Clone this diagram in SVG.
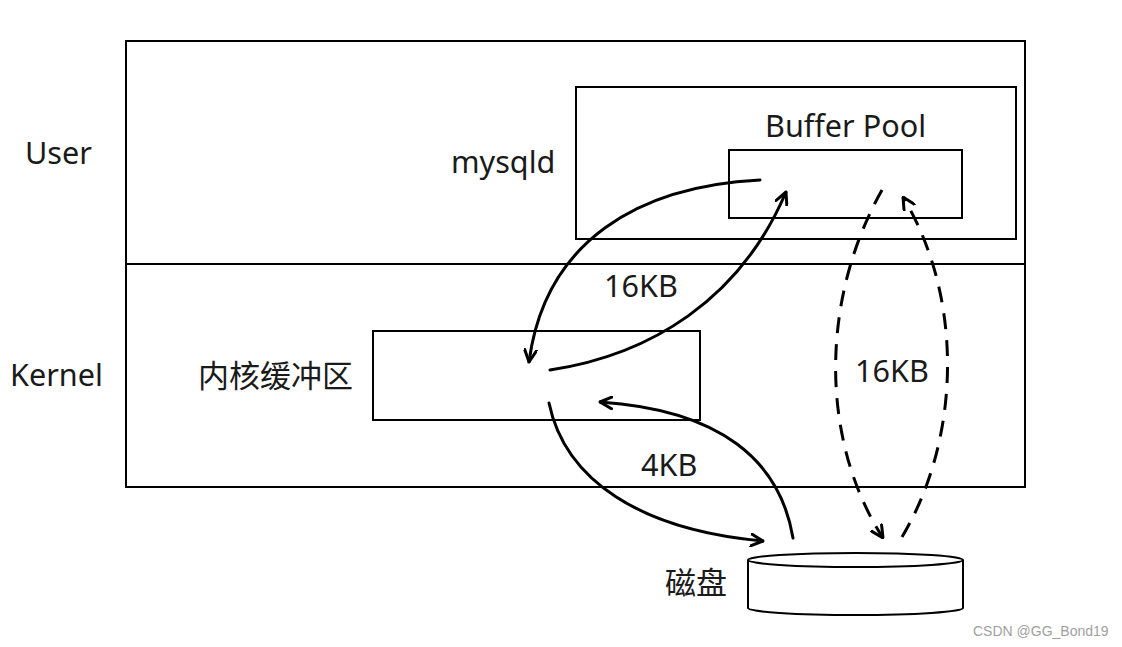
<svg xmlns="http://www.w3.org/2000/svg" width="1122" height="647" viewBox="0 0 1122 647">
<defs>
<style>
.box{fill:none;stroke:#000;stroke-width:2}
.t{font-family:"Noto Sans","Noto Sans CJK SC",sans-serif;font-size:30.6px;fill:#1a1a1a}
.cjk{font-size:31px}
.arc{fill:none;stroke:#000;stroke-width:3;stroke-linecap:round}
.dash{stroke-dasharray:16 11;stroke-linecap:butt}
.wm{font-family:"Liberation Sans",Arial,sans-serif;font-size:14px;fill:#a0a0a0}
</style>
<marker id="ah" viewBox="0 0 14 14" refX="13" refY="7" markerWidth="14" markerHeight="14" markerUnits="userSpaceOnUse" orient="auto">
<path d="M1,1 L13,7 L1,13" fill="none" stroke="#000" stroke-width="3" stroke-linecap="round" stroke-linejoin="round"/>
</marker>
</defs>
<rect width="1122" height="647" fill="#fff"/>
<g id="user-kernel">
<rect class="box" x="126" y="41" width="899" height="446"/>
<line class="box" x1="126" y1="264" x2="1025" y2="264"/>
<text class="t" x="25" y="164">User</text>
<text class="t" x="10" y="386">Kernel</text>
</g>
<g id="mysqld">
<rect class="box" x="576" y="87" width="440" height="152"/>
<text class="t" x="451" y="173">mysqld</text>
</g>
<g id="buffer-pool">
<rect class="box" x="729" y="150" width="233" height="68"/>
<text class="t" x="765" y="137">Buffer Pool</text>
</g>
<g id="kernel-buffer">
<rect class="box" x="373" y="331" width="327" height="89"/>
<text class="t cjk" x="198" y="387">内核缓冲区</text>
</g>
<g id="disk">
<path class="box" d="M748,560 L748,608 A107.5,7 0 0 0 963,608 L963,560"/>
<ellipse class="box" cx="855.5" cy="560" rx="107.5" ry="7" fill="#fff"/>
<text class="t cjk" x="665" y="594">磁盘</text>
</g>
<g id="connectors">
<path class="arc" d="M760,180 C640,186 545,240 529,362" marker-end="url(#ah)"/>
<path class="arc" d="M550,370 C650,355 740,300 786,192" marker-end="url(#ah)"/>
<path class="arc" d="M549,403 C565,480 640,530 763,541" marker-end="url(#ah)"/>
<path class="arc" d="M793,538 C780,460 720,410 600,402" marker-end="url(#ah)"/>
<path class="arc dash" d="M882,190 C820,300 820,440 883,538" marker-end="url(#ah)"/>
<path class="arc dash" d="M902,537 C960,440 965,300 903,197" marker-end="url(#ah)"/>
<text class="t" x="604" y="297">16KB</text>
<text class="t" x="855" y="382">16KB</text>
<text class="t" x="641" y="476">4KB</text>
</g>
<text class="wm" x="973" y="636">CSDN @GG_Bond19</text>
</svg>
